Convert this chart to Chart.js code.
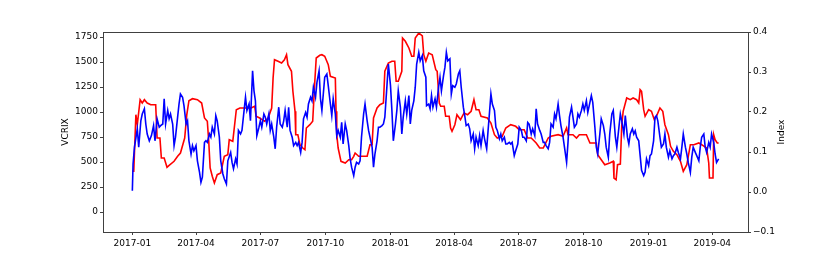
<!DOCTYPE html>
<html>
<head>
<meta charset="utf-8">
<script src="https://cdn.jsdelivr.net/npm/chart.js@4.4.1/dist/chart.umd.min.js"></script>
<style>
  html, body { margin: 0; padding: 0; background: #fff; }
  #wrap { width: 830px; height: 266px; }
</style>
</head>
<body>
<div id="wrap"><canvas id="chart" width="830" height="266"></canvas></div>
<script>
// days counted from this date
const startDate = "2017-01-01";

// x tick labels (month starts)
const monthTicks = ["2017-01", "2017-04", "2017-07", "2017-10", "2018-01",
                    "2018-04", "2018-07", "2018-10", "2019-01", "2019-04"];

const vcrixTicks = [0, 250, 500, 750, 1000, 1250, 1500, 1750];
const indexTicks = [-0.1, 0, 0.1, 0.2, 0.3, 0.4];

// VCRIX (red, left axis)
const vcrixDays = [
  0, 2, 5, 7, 11, 14, 17, 21, 26, 33,
  35, 39, 41, 45, 49, 52, 59, 64, 68, 74,
  77, 80, 85, 92, 98, 102, 106, 108, 110, 113,
  116, 120, 125, 130, 135, 137, 142, 147, 152, 159,
  168, 173, 175, 180, 187, 192, 197, 199, 201, 206,
  211, 215, 218, 220, 225, 227, 230, 231, 234, 237,
  241, 244, 246, 251, 255, 258, 260, 265, 268, 272,
  277, 280, 287, 288, 289, 291, 295, 301, 306, 310,
  313, 315, 320, 332, 336, 339, 341, 346, 350, 355,
  357, 362, 367, 371, 373, 376, 381, 382, 386, 391,
  395, 398, 400, 405, 410, 412, 415, 419, 424, 429,
  431, 434, 436, 441, 443, 448, 450, 452, 456, 459,
  464, 469, 474, 479, 483, 486, 490, 493, 502, 507,
  512, 516, 523, 528, 535, 542, 547, 554, 559, 564,
  571, 576, 581, 588, 592, 602, 609, 614, 616, 623,
  628, 632, 642, 647, 656, 658, 663, 668, 675, 680,
  681, 684, 686, 690, 692, 694, 699, 704, 708, 713,
  716, 718, 720, 723, 725, 730, 734, 738, 741, 746,
  750, 753, 758, 761, 765, 770, 775, 779, 784, 789,
  794, 801, 805, 812, 815, 816, 821, 822, 824, 827,
  829
];
const vcrixValues = [
  407, 407, 973, 873, 1123, 1090, 1123, 1090, 1073, 1073,
  740, 740, 540, 540, 447, 467, 507, 557, 590, 740,
  973, 1113, 1133, 1123, 1090, 940, 907, 707, 440, 357,
  290, 373, 390, 557, 573, 723, 707, 1023, 1040, 1040,
  1040, 1057, 957, 940, 907, 940, 1040, 1340, 1523, 1507,
  1490, 1523, 1573, 1473, 1407, 1207, 1007, 773, 773, 673,
  640, 623, 840, 873, 907, 1307, 1540, 1567, 1573, 1557,
  1473, 1357, 1340, 1007, 773, 640, 507, 490, 523, 523,
  557, 590, 557, 557, 673, 673, 940, 1040, 1073, 1090,
  1407, 1490, 1507, 1507, 1307, 1307, 1407, 1740, 1707, 1640,
  1557, 1557, 1740, 1790, 1760, 1573, 1507, 1590, 1573, 1423,
  1407, 1090, 1057, 1057, 957, 957, 840, 807, 873, 973,
  923, 990, 973, 1007, 1123, 1023, 1023, 957, 940, 890,
  773, 740, 757, 840, 873, 857, 823, 823, 740, 740,
  690, 640, 640, 740, 757, 773, 757, 840, 773, 773,
  740, 773, 773, 690, 690, 573, 523, 473, 490, 507,
  340, 323, 473, 480, 873, 1007, 1140, 1123, 1140, 1123,
  1090, 1223, 1207, 1023, 957, 1023, 1007, 923, 957, 1040,
  1007, 873, 773, 657, 607, 573, 507, 407, 473, 673,
  673, 690, 673, 640, 490, 340, 340, 773, 723, 690,
  690
];

// Index (blue, right axis)
const indexDays = [
  0, 1, 3, 7, 9, 12, 14, 17, 19, 21,
  24, 27, 30, 32, 35, 38, 40, 43, 45, 47,
  50, 52, 54, 57, 59, 61, 64, 66, 68, 71,
  73, 76, 78, 80, 83, 85, 87, 90, 92, 95,
  97, 99, 102, 104, 106, 109, 111, 113, 116, 118,
  120, 123, 125, 128, 130, 133, 135, 139, 141, 143,
  146, 148, 150, 153, 155, 158, 160, 162, 165, 167,
  170, 172, 174, 176, 179, 181, 183, 186, 188, 190,
  193, 195, 197, 200, 202, 204, 207, 209, 212, 214,
  216, 219, 221, 223, 226, 228, 231, 233, 235, 238,
  240, 242, 245, 247, 249, 252, 254, 256, 259, 261,
  264, 266, 268, 270, 272, 275, 277, 280, 282, 284,
  287, 289, 291, 294, 296, 298, 301, 303, 306, 308,
  310, 313, 315, 317, 320, 322, 324, 327, 329, 332,
  334, 336, 339, 341, 343, 346, 348, 350, 353, 355,
  357, 360, 362, 365, 367, 369, 372, 374, 376, 379,
  381, 383, 386, 388, 391, 393, 395, 398, 400, 402,
  405, 407, 410, 412, 415, 416, 419, 421, 423, 425,
  428, 430, 433, 435, 437, 440, 442, 444, 446, 449,
  451, 453, 456, 458, 461, 463, 465, 468, 470, 472,
  475, 477, 479, 482, 484, 486, 489, 491, 493, 496,
  498, 501, 503, 505, 507, 509, 512, 514, 516, 519,
  521, 523, 526, 528, 530, 533, 535, 537, 540, 542,
  545, 547, 550, 552, 554, 557, 559, 561, 564, 566,
  569, 571, 573, 576, 578, 581, 583, 585, 588, 590,
  592, 595, 597, 599, 602, 604, 606, 609, 611, 614,
  616, 618, 621, 623, 625, 628, 630, 632, 635, 637,
  639, 642, 644, 647, 649, 651, 654, 656, 658, 661,
  663, 666, 668, 670, 673, 675, 678, 680, 683, 685,
  688, 690, 692, 695, 697, 700, 702, 704, 707, 709,
  711, 713, 716, 718, 720, 723, 725, 727, 730, 732,
  734, 737, 739, 741, 743, 746, 748, 751, 753, 755,
  758, 760, 763, 765, 767, 770, 772, 775, 777, 779,
  782, 784, 786, 789, 791, 793, 796, 798, 801, 803,
  805, 808, 810, 812, 815, 817, 819, 822, 824, 826,
  829
];
const indexValues = [
  0.003, 0.07, 0.112, 0.158, 0.112, 0.178, 0.195, 0.208, 0.17, 0.145,
  0.128, 0.141, 0.166, 0.128, 0.183, 0.162, 0.166, 0.17, 0.233, 0.17,
  0.204, 0.183, 0.195, 0.17, 0.116, 0.137, 0.187, 0.22, 0.245, 0.237,
  0.216, 0.17, 0.178, 0.128, 0.095, 0.116, 0.103, 0.116, 0.078, 0.049,
  0.024, 0.037, 0.124, 0.128, 0.124, 0.145, 0.137, 0.162, 0.145, 0.191,
  0.178, 0.137, 0.078, 0.045, 0.033, 0.02, 0.078, 0.099, 0.074, 0.058,
  0.083, 0.07, 0.154, 0.145, 0.154, 0.204, 0.237, 0.204, 0.22, 0.178,
  0.303, 0.253, 0.228, 0.141, 0.162, 0.178, 0.162, 0.195, 0.187, 0.17,
  0.195, 0.154, 0.17, 0.137, 0.108, 0.162, 0.212, 0.17, 0.162, 0.178,
  0.204, 0.162, 0.212, 0.154, 0.137, 0.116, 0.124, 0.116, 0.124, 0.099,
  0.124, 0.183, 0.199, 0.187, 0.22, 0.237, 0.228, 0.262, 0.237, 0.274,
  0.303, 0.233, 0.204, 0.245, 0.287, 0.295, 0.266, 0.22, 0.191, 0.233,
  0.195, 0.141, 0.154, 0.137, 0.174, 0.12, 0.17, 0.154, 0.116, 0.083,
  0.062, 0.041, 0.062, 0.074, 0.07, 0.078, 0.137, 0.195, 0.22, 0.178,
  0.154, 0.137, 0.112, 0.062, 0.095, 0.128, 0.162, 0.162, 0.166, 0.17,
  0.187, 0.266, 0.32, 0.266, 0.204, 0.128, 0.17, 0.204, 0.253, 0.212,
  0.145, 0.187, 0.228, 0.195, 0.241, 0.17, 0.204, 0.228, 0.262, 0.32,
  0.349, 0.328, 0.341, 0.303, 0.287, 0.216, 0.22, 0.208, 0.241, 0.212,
  0.233, 0.212, 0.262, 0.287, 0.253, 0.291, 0.312, 0.349, 0.328, 0.333,
  0.245, 0.266, 0.262, 0.27, 0.295, 0.303, 0.262, 0.212, 0.191, 0.166,
  0.17, 0.158, 0.128, 0.145, 0.108, 0.137, 0.116, 0.141, 0.116, 0.154,
  0.133, 0.108, 0.154, 0.199, 0.245, 0.22, 0.204, 0.162, 0.154, 0.133,
  0.145, 0.128, 0.137, 0.12, 0.12, 0.124, 0.12, 0.124, 0.091, 0.103,
  0.12, 0.162, 0.154, 0.137, 0.137, 0.128, 0.174, 0.17, 0.145, 0.158,
  0.141, 0.208, 0.17, 0.154, 0.145, 0.124, 0.124, 0.116, 0.108, 0.124,
  0.17, 0.162, 0.195, 0.183, 0.22, 0.191, 0.166, 0.137, 0.112, 0.074,
  0.124, 0.187, 0.212, 0.187, 0.162, 0.17, 0.195, 0.187, 0.204, 0.22,
  0.204, 0.228, 0.199, 0.224, 0.241, 0.224, 0.162, 0.112, 0.095, 0.145,
  0.183, 0.166, 0.145, 0.112, 0.087, 0.145, 0.195, 0.204, 0.137, 0.112,
  0.162, 0.195, 0.178, 0.145, 0.191, 0.137, 0.12, 0.145, 0.158, 0.145,
  0.153, 0.137, 0.128, 0.091, 0.054, 0.041, 0.05, 0.083, 0.066, 0.091,
  0.095, 0.128, 0.187, 0.191, 0.178, 0.137, 0.112, 0.12, 0.145, 0.112,
  0.087, 0.103, 0.083, 0.091, 0.095, 0.112, 0.099, 0.083, 0.112, 0.145,
  0.112, 0.095, 0.074, 0.049, 0.087, 0.112, 0.099, 0.091, 0.078, 0.112,
  0.137, 0.145, 0.112, 0.099, 0.124, 0.112, 0.145, 0.124, 0.095, 0.074,
  0.083
];

const DAY = 86400000;
const t0 = Date.parse(startDate + "T00:00:00Z");
function dayOf(label) {
  const [y, m] = label.split("-").map(Number);
  return Math.round((Date.UTC(y, m - 1, 1) - t0) / DAY);
}
const tickDays = monthTicks.map(dayOf);

Chart.defaults.font.family = "'DejaVu Sans', sans-serif";
Chart.defaults.font.size = 9;
Chart.defaults.color = "#000";

const axisLine = "#404040";

// top spine + right axis title reading bottom-to-top, like matplotlib
const frameExtras = {
  id: "frameExtras",
  afterDraw(chart) {
    const { ctx, chartArea } = chart;
    ctx.save();
    ctx.strokeStyle = axisLine;
    ctx.lineWidth = 1;
    ctx.beginPath();
    ctx.moveTo(chartArea.left, Math.round(chartArea.top) + 0.5);
    ctx.lineTo(chartArea.right, Math.round(chartArea.top) + 0.5);
    ctx.stroke();

    ctx.translate(chartArea.right + 34, (chartArea.top + chartArea.bottom) / 2);
    ctx.rotate(-Math.PI / 2);
    ctx.fillStyle = "#000";
    ctx.font = "9px 'DejaVu Sans', sans-serif";
    ctx.textAlign = "center";
    ctx.textBaseline = "middle";
    ctx.fillText("Index", 0, 0);
    ctx.restore();
  }
};

const tickGrid = { drawOnChartArea: false, drawTicks: true, tickLength: 3, tickColor: axisLine };
const border = { display: true, color: axisLine, width: 1 };

new Chart(document.getElementById("chart"), {
  type: "line",
  data: {
    datasets: [
      {
        label: "VCRIX",
        data: vcrixDays.map((d, i) => ({ x: d, y: vcrixValues[i] })),
        borderColor: "#ff0000",
        borderWidth: 1.6,
        pointRadius: 0,
        tension: 0,
        yAxisID: "y",
        order: 2
      },
      {
        label: "Index",
        data: indexDays.map((d, i) => ({ x: d, y: indexValues[i] })),
        borderColor: "#0000ff",
        borderWidth: 1.6,
        pointRadius: 0,
        tension: 0,
        yAxisID: "y2",
        order: 1
      }
    ]
  },
  options: {
    responsive: false,
    animation: false,
    layout: { padding: { left: 60, right: 42, top: 32, bottom: 0 } },
    plugins: { legend: { display: false }, tooltip: { enabled: false } },
    scales: {
      x: {
        type: "linear",
        min: -41.5,
        max: 870.5,
        grid: tickGrid,
        border: border,
        afterBuildTicks: s => { s.ticks = tickDays.map(v => ({ value: v })); },
        afterFit: s => { s.height = 34; },
        ticks: {
          padding: 3,
          maxRotation: 0,
          autoSkip: false,
          callback: v => monthTicks[tickDays.indexOf(v)] ?? ""
        }
      },
      y: {
        position: "left",
        min: -200,
        max: 1800,
        grid: tickGrid,
        border: border,
        afterBuildTicks: s => { s.ticks = vcrixTicks.map(v => ({ value: v })); },
        afterFit: s => { s.width = 43; },
        ticks: { padding: 2, callback: v => String(v) },
        title: { display: true, text: "VCRIX", padding: 0, font: { size: 9 } }
      },
      y2: {
        position: "right",
        min: -0.1,
        max: 0.4,
        grid: tickGrid,
        border: border,
        afterBuildTicks: s => { s.ticks = indexTicks.map(v => ({ value: v })); },
        afterFit: s => { s.width = 40; },
        ticks: {
          padding: 2,
          callback: v => v.toFixed(1).replace("-", "\u2212")
        }
      }
    }
  },
  plugins: [frameExtras]
});
</script>
</body>
</html>
